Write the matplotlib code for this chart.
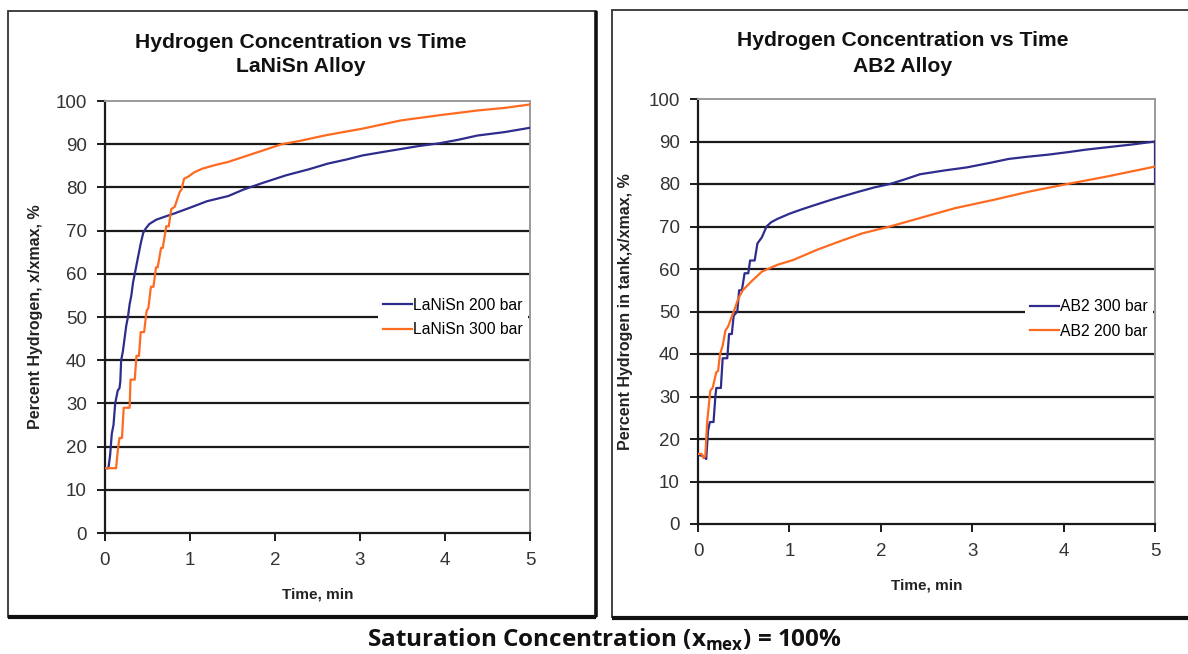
import matplotlib
matplotlib.use("Agg")
import matplotlib.pyplot as plt
from matplotlib.patches import Rectangle
from matplotlib.lines import Line2D

# ---------------- data ----------------
lanisn_200_t = [0.0, 0.04, 0.06, 0.08, 0.09, 0.10, 0.12, 0.13, 0.15, 0.17, 0.18, 0.19, 0.21, 0.23,
                0.25, 0.27, 0.29, 0.31, 0.33, 0.36, 0.39, 0.42, 0.45, 0.48, 0.52, 0.60, 0.70, 0.82,
                1.00, 1.20, 1.45, 1.63, 1.85, 2.13, 2.40, 2.62, 2.85, 3.03, 3.30, 3.70, 3.93,
                4.15, 4.38, 4.70, 5.00]
lanisn_200_h = [15.0, 15.0, 18.0, 23.0, 24.0, 25.0, 30.0, 31.0, 33.0, 33.5, 35.0, 40.0, 42.0, 45.0,
                48.0, 50.0, 53.0, 55.0, 58.0, 61.0, 64.0, 67.0, 69.5, 70.5, 71.5, 72.5, 73.2, 74.0,
                75.3, 76.8, 78.0, 79.5, 81.0, 82.8, 84.2, 85.5, 86.5, 87.4, 88.3, 89.6, 90.2,
                91.0, 92.0, 92.8, 93.8]

lanisn_300_t = [0.0, 0.13, 0.15, 0.17, 0.20, 0.22, 0.29, 0.30, 0.35, 0.37, 0.40, 0.42, 0.46, 0.49,
                0.51, 0.54, 0.57, 0.60, 0.62, 0.66, 0.68, 0.72, 0.75, 0.78, 0.82, 0.88, 0.90, 0.93,
                0.98, 1.05, 1.14, 1.30, 1.45, 1.68, 1.85, 2.08, 2.30, 2.58, 2.80, 3.03, 3.48, 3.93,
                4.38, 4.70, 5.00]
lanisn_300_h = [15.0, 15.0, 19.0, 22.0, 22.0, 29.0, 29.0, 35.5, 35.5, 41.0, 41.0, 46.5, 46.5, 51.5,
                52.0, 57.0, 57.0, 61.5, 61.5, 66.0, 66.0, 71.0, 71.0, 75.0, 75.5, 79.0, 79.5, 82.0,
                82.5, 83.5, 84.3, 85.2, 85.9, 87.4, 88.5, 90.0, 90.8, 92.0, 92.8, 93.6, 95.5, 96.7,
                97.8, 98.4, 99.2]

ab2_300_t = [0.0, 0.05, 0.09, 0.11, 0.13, 0.17, 0.19, 0.20, 0.25, 0.27, 0.32, 0.34, 0.37, 0.39,
             0.43, 0.45, 0.48, 0.51, 0.55, 0.57, 0.62, 0.65, 0.70, 0.75, 0.80, 0.87, 1.00, 1.13,
             1.30, 1.46, 1.60, 1.76, 1.93, 2.10, 2.25, 2.43, 2.70, 2.94, 3.20, 3.40, 3.60, 3.83,
             4.05, 4.25, 4.50, 4.75, 5.00, 5.00]
ab2_300_h = [16.3, 16.0, 15.3, 22.0, 24.0, 24.0, 30.0, 32.0, 32.0, 39.0, 39.0, 44.7, 44.7, 49.0,
             50.0, 55.0, 55.0, 59.0, 59.0, 62.0, 62.0, 66.0, 67.5, 70.0, 71.0, 71.8, 73.0, 74.0,
             75.2, 76.3, 77.2, 78.2, 79.2, 80.0, 81.0, 82.3, 83.2, 83.9, 85.0, 85.9, 86.4, 86.9,
             87.5, 88.1, 88.7, 89.3, 90.0, 80.0]

ab2_200_t = [0.0, 0.04, 0.06, 0.08, 0.10, 0.135, 0.16, 0.20, 0.22, 0.24, 0.27, 0.30, 0.33, 0.36,
             0.40, 0.44, 0.49, 0.58, 0.70, 0.87, 1.04, 1.30, 1.55, 1.80, 2.10, 2.43, 2.81, 3.24,
             3.62, 4.04, 4.46, 5.00]
ab2_200_h = [16.5, 16.5, 15.5, 16.0, 24.0, 31.4, 32.0, 35.7, 36.0, 39.8, 42.0, 45.5, 46.5, 48.3,
             50.5, 53.0, 55.0, 57.0, 59.4, 61.0, 62.1, 64.5, 66.5, 68.4, 70.0, 72.0, 74.3, 76.3,
             78.2, 80.0, 81.7, 84.1]

x_ticks = [0, 1, 2, 3, 4, 5]
y_ticks = [0, 10, 20, 30, 40, 50, 60, 70, 80, 90, 100]

BLUE = "#2E2C8C"
ORANGE = "#FF6A21"
FONT = "Liberation Sans"

W, H = 1188, 654
fig = plt.figure(figsize=(W / 100, H / 100), dpi=100)
fig.patch.set_facecolor("white")


def px_rect(x0, y0, x1, y1):
    """pixel box (top-left origin) -> figure fraction [l, b, w, h]"""
    return [x0 / W, (H - y1) / H, (x1 - x0) / W, (y1 - y0) / H]


def panel_frame(x0, y0, x1, y1):
    l, b, w, h = px_rect(x0, y0, x1, y1)
    fig.add_artist(Rectangle((l, b), w, h, transform=fig.transFigure,
                             fill=False, edgecolor="#333333", lw=1.3, zorder=0))
    fig.add_artist(Line2D([l, l + w], [b, b], transform=fig.transFigure,
                          color="#111111", lw=3.0, solid_capstyle="butt"))
    fig.add_artist(Line2D([l + w, l + w], [b, b + h], transform=fig.transFigure,
                          color="#111111", lw=2.6, solid_capstyle="butt"))


def style_axes(ax, ylabel, ylabelpad):
    ax.set_xlim(0, 5)
    ax.set_ylim(0, 100)
    ax.set_xticks(x_ticks)
    ax.set_yticks(y_ticks)
    ax.set_xticklabels([str(t) for t in x_ticks], fontsize=13.5, family=FONT, color="#333333")
    ax.set_yticklabels([str(t) for t in y_ticks], fontsize=13.5, family=FONT, color="#333333")
    for yv in y_ticks[1:-1]:
        ax.axhline(yv, color="#1a1a1a", lw=1.6, zorder=1)
    ax.spines["left"].set_color("#1a1a1a")
    ax.spines["left"].set_linewidth(1.6)
    ax.spines["bottom"].set_color("#1a1a1a")
    ax.spines["bottom"].set_linewidth(1.6)
    ax.spines["top"].set_color("#9a9a9a")
    ax.spines["top"].set_linewidth(1.4)
    ax.spines["right"].set_color("#9a9a9a")
    ax.spines["right"].set_linewidth(1.4)
    ax.tick_params(axis="both", direction="out", length=6, width=1.4, color="#1a1a1a")
    ax.tick_params(axis="y", pad=7)
    ax.tick_params(axis="x", pad=8)
    ax.set_xlabel("Time, min", fontsize=11, fontweight="bold", family=FONT,
                  color="#222222", labelpad=13)
    ax.set_ylabel(ylabel, fontsize=11.5, fontweight="bold", family=FONT,
                  color="#222222", labelpad=ylabelpad)


def add_legend(ax, top):
    leg = ax.legend(loc="upper right", bbox_to_anchor=(0.995, top), frameon=True,
                    facecolor="white", edgecolor="none", framealpha=1, fancybox=False,
                    prop={"family": FONT, "size": 11.3}, handlelength=1.85, handletextpad=0.1,
                    labelspacing=0.6, borderpad=0.3, borderaxespad=0)
    leg.set_zorder(5)


# ---------------- left panel ----------------
panel_frame(8, 11, 596, 617)
ax1 = fig.add_axes(px_rect(105, 101, 530, 533))
ax1.plot(lanisn_200_t, lanisn_200_h, color=BLUE, lw=1.6, label="LaNiSn 200 bar", zorder=3)
ax1.plot(lanisn_300_t, lanisn_300_h, color=ORANGE, lw=1.6, label="LaNiSn 300 bar", zorder=3)
style_axes(ax1, "Percent Hydrogen, x/xmax, %", 9)
add_legend(ax1, 0.555)
fig.text(301 / W, 1 - 42 / H, "Hydrogen Concentration vs Time", ha="center", va="center",
         fontsize=15.2, fontweight="bold", family=FONT, color="#111111")
fig.text(301 / W, 1 - 67 / H, "LaNiSn Alloy", ha="center", va="center",
         fontsize=15.2, fontweight="bold", family=FONT, color="#111111")

# ---------------- right panel ----------------
panel_frame(612, 10, 1200, 618)
ax2 = fig.add_axes(px_rect(698, 99, 1155, 524))
ax2.plot(ab2_300_t, ab2_300_h, color=BLUE, lw=1.6, label="AB2 300 bar", zorder=3)
ax2.plot(ab2_200_t, ab2_200_h, color=ORANGE, lw=1.6, label="AB2 200 bar", zorder=3)
style_axes(ax2, "Percent Hydrogen in tank,x/xmax, %", 11)
add_legend(ax2, 0.54)
fig.text(903 / W, 1 - 41 / H, "Hydrogen Concentration vs Time", ha="center", va="center",
         fontsize=15.2, fontweight="bold", family=FONT, color="#111111")
fig.text(903 / W, 1 - 66 / H, "AB2 Alloy", ha="center", va="center",
         fontsize=15.2, fontweight="bold", family=FONT, color="#111111")

# ---------------- bottom caption ----------------
fig.text(604 / W, 1 - 640 / H, r"Saturation Concentration (x$_{\mathregular{mex}}$) = 100%",
         ha="center", va="center", fontsize=17.5, fontweight="bold", family="Open Sans",
         color="#111111")

fig.savefig("out.png", dpi=100, facecolor="white")
